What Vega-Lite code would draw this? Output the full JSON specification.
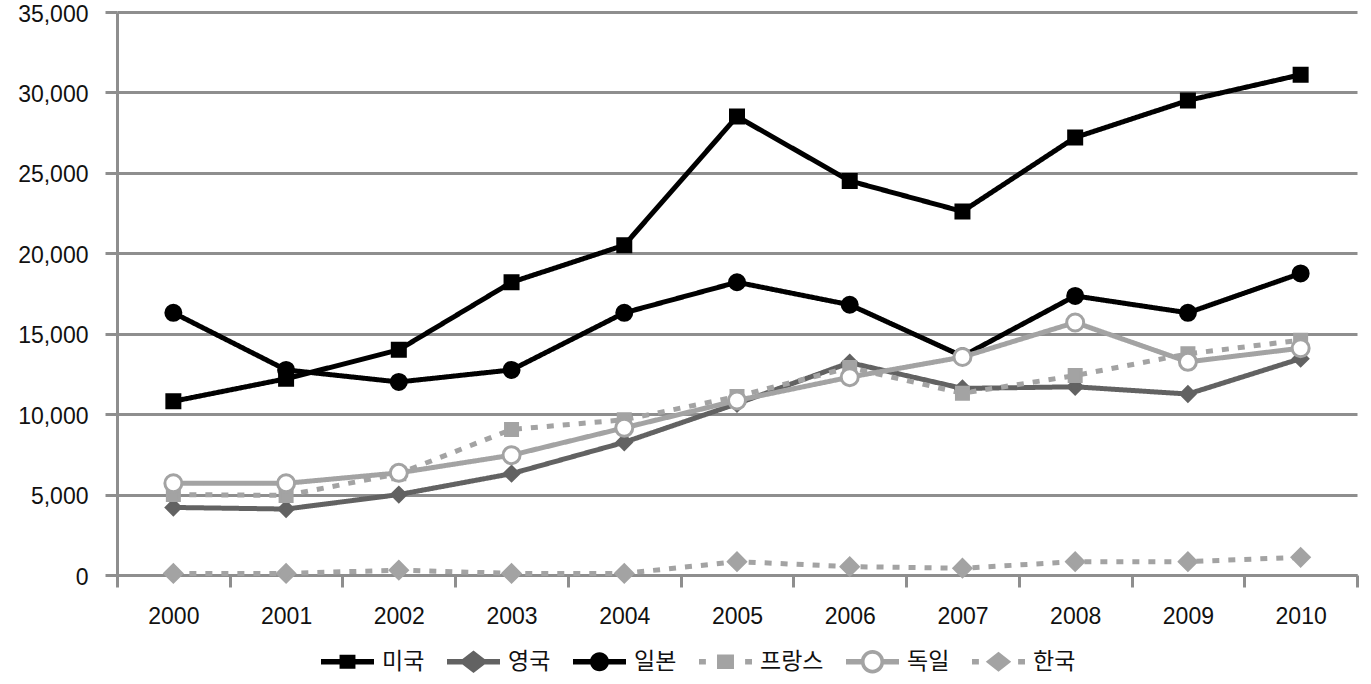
{
  "$schema": "https://vega.github.io/schema/vega-lite/v6.json",
  "width": 1240,
  "height": 563,
  "autosize": "none",
  "padding": {"left": 117, "top": 12, "right": 14, "bottom": 109},
  "background": "white",
  "config": {"font": "Liberation Sans", "view": {"stroke": null}},
  "data": {"values": [
    {"year": "2000", "country": "미국", "value": 10800},
    {"year": "2001", "country": "미국", "value": 12200},
    {"year": "2002", "country": "미국", "value": 14000},
    {"year": "2003", "country": "미국", "value": 18200},
    {"year": "2004", "country": "미국", "value": 20500},
    {"year": "2005", "country": "미국", "value": 28500},
    {"year": "2006", "country": "미국", "value": 24500},
    {"year": "2007", "country": "미국", "value": 22600},
    {"year": "2008", "country": "미국", "value": 27200},
    {"year": "2009", "country": "미국", "value": 29500},
    {"year": "2010", "country": "미국", "value": 31100},
    {"year": "2000", "country": "영국", "value": 4200},
    {"year": "2001", "country": "영국", "value": 4100},
    {"year": "2002", "country": "영국", "value": 5000},
    {"year": "2003", "country": "영국", "value": 6300},
    {"year": "2004", "country": "영국", "value": 8250},
    {"year": "2005", "country": "영국", "value": 10650},
    {"year": "2006", "country": "영국", "value": 13200},
    {"year": "2007", "country": "영국", "value": 11600},
    {"year": "2008", "country": "영국", "value": 11700},
    {"year": "2009", "country": "영국", "value": 11250},
    {"year": "2010", "country": "영국", "value": 13450},
    {"year": "2000", "country": "일본", "value": 16300},
    {"year": "2001", "country": "일본", "value": 12750},
    {"year": "2002", "country": "일본", "value": 12000},
    {"year": "2003", "country": "일본", "value": 12750},
    {"year": "2004", "country": "일본", "value": 16300},
    {"year": "2005", "country": "일본", "value": 18200},
    {"year": "2006", "country": "일본", "value": 16800},
    {"year": "2007", "country": "일본", "value": 13600},
    {"year": "2008", "country": "일본", "value": 17350},
    {"year": "2009", "country": "일본", "value": 16300},
    {"year": "2010", "country": "일본", "value": 18750},
    {"year": "2000", "country": "프랑스", "value": 5000},
    {"year": "2001", "country": "프랑스", "value": 4950},
    {"year": "2002", "country": "프랑스", "value": 6300},
    {"year": "2003", "country": "프랑스", "value": 9050},
    {"year": "2004", "country": "프랑스", "value": 9650},
    {"year": "2005", "country": "프랑스", "value": 11100},
    {"year": "2006", "country": "프랑스", "value": 12900},
    {"year": "2007", "country": "프랑스", "value": 11300},
    {"year": "2008", "country": "프랑스", "value": 12400},
    {"year": "2009", "country": "프랑스", "value": 13750},
    {"year": "2010", "country": "프랑스", "value": 14600},
    {"year": "2000", "country": "독일", "value": 5700},
    {"year": "2001", "country": "독일", "value": 5700},
    {"year": "2002", "country": "독일", "value": 6350},
    {"year": "2003", "country": "독일", "value": 7450},
    {"year": "2004", "country": "독일", "value": 9150},
    {"year": "2005", "country": "독일", "value": 10850},
    {"year": "2006", "country": "독일", "value": 12300},
    {"year": "2007", "country": "독일", "value": 13550},
    {"year": "2008", "country": "독일", "value": 15700},
    {"year": "2009", "country": "독일", "value": 13250},
    {"year": "2010", "country": "독일", "value": 14100},
    {"year": "2000", "country": "한국", "value": 100},
    {"year": "2001", "country": "한국", "value": 100},
    {"year": "2002", "country": "한국", "value": 300},
    {"year": "2003", "country": "한국", "value": 100},
    {"year": "2004", "country": "한국", "value": 100},
    {"year": "2005", "country": "한국", "value": 830},
    {"year": "2006", "country": "한국", "value": 520},
    {"year": "2007", "country": "한국", "value": 420},
    {"year": "2008", "country": "한국", "value": 830},
    {"year": "2009", "country": "한국", "value": 830},
    {"year": "2010", "country": "한국", "value": 1100}
  ]},
  "encoding": {
    "x": {
      "field": "year", "type": "ordinal", "sort": null,
      "scale": {"type": "band", "paddingInner": 0, "paddingOuter": 0},
      "axis": {
        "title": null, "labelAngle": 0, "tickBand": "extent",
        "domainColor": "#8e8e8e", "domainWidth": 3,
        "tickColor": "#8e8e8e", "tickWidth": 3, "tickSize": 12,
        "labelFontSize": 23, "labelColor": "#111111", "labelPadding": 18,
        "grid": false
      }
    },
    "y": {
      "field": "value", "type": "quantitative",
      "scale": {"domain": [0, 35000], "nice": false},
      "axis": {
        "title": null, "values": [0, 5000, 10000, 15000, 20000, 25000, 30000, 35000],
        "format": ",.0f", "grid": true, "gridColor": "#8e8e8e", "gridWidth": 3,
        "domainColor": "#8e8e8e", "domainWidth": 3,
        "tickColor": "#8e8e8e", "tickWidth": 3, "tickSize": 12,
        "labelFontSize": 23, "labelColor": "#111111", "labelPadding": 17, "labelOffset": 2
      }
    }
  },
  "layer": [
    {
      "mark": {"type": "line", "strokeWidth": 5, "strokeCap": "butt"},
      "encoding": {
        "color": {
          "field": "country", "type": "nominal",
          "scale": {"domain": ["미국", "영국", "일본", "프랑스", "독일", "한국"],
                    "range": ["#000000", "#626262", "#000000", "#a3a3a3", "#a3a3a3", "#a3a3a3"]},
          "legend": null
        },
        "strokeDash": {
          "field": "country", "type": "nominal",
          "scale": {"domain": ["미국", "영국", "일본", "프랑스", "독일", "한국"],
                    "range": [[1, 0], [1, 0], [1, 0], [7, 9], [1, 0], [7, 9]]},
          "legend": null
        }
      }
    },
    {
      "mark": {"type": "point", "filled": true, "opacity": 1, "strokeWidth": 3},
      "encoding": {
        "shape": {
          "field": "country", "type": "nominal",
          "scale": {"domain": ["미국", "영국", "일본", "프랑스", "독일", "한국"],
                    "range": ["square", "diamond", "circle", "square", "circle", "diamond"]},
          "legend": null
        },
        "fill": {
          "field": "country", "type": "nominal",
          "scale": {"domain": ["미국", "영국", "일본", "프랑스", "독일", "한국"],
                    "range": ["#000000", "#626262", "#000000", "#a3a3a3", "#ffffff", "#a3a3a3"]},
          "legend": null
        },
        "stroke": {
          "field": "country", "type": "nominal",
          "scale": {"domain": ["미국", "영국", "일본", "프랑스", "독일", "한국"],
                    "range": ["#000000", "#626262", "#000000", "#a3a3a3", "#a3a3a3", "#a3a3a3"]},
          "legend": null
        },
        "size": {
          "field": "country", "type": "nominal",
          "scale": {"type": "ordinal", "domain": ["미국", "영국", "일본", "프랑스", "독일", "한국"],
                    "range": [169, 200, 225, 144, 289, 289]},
          "legend": null
        }
      }
    },
    {
      "transform": [{"filter": "datum.value < 0"}],
      "mark": {"type": "point", "filled": true, "opacity": 1, "strokeWidth": 0},
      "encoding": {
        "shape": {
          "field": "country", "type": "nominal",
          "scale": {"domain": ["미국", "영국", "일본", "프랑스", "독일", "한국"],
                    "range": [
                      "M-1,-0.1H1V0.1H-1Z M-0.3,-0.26H0.3V0.26H-0.3Z",
                      "M-1,-0.1H1V0.1H-1Z M-0.55,0L0,-0.42L0.55,0L0,0.42Z",
                      "M-1,-0.1H1V0.1H-1Z M-0.36,0A0.36,0.36 0 1,1 0.36,0A0.36,0.36 0 1,1 -0.36,0Z",
                      "M-1,-0.1H-0.74V0.1H-1Z M-0.32,-0.27H0.32V0.27H-0.32Z M0.74,-0.1H1V0.1H0.74Z",
                      "M-1,-0.1H-0.38V0.1H-1Z M0.38,-0.1H1V0.1H0.38Z M-0.44,0A0.44,0.44 0 1,1 0.44,0A0.44,0.44 0 1,1 -0.44,0Z M-0.3,0A0.3,0.3 0 1,0 0.3,0A0.3,0.3 0 1,0 -0.3,0Z",
                      "M-1,-0.1H-0.74V0.1H-1Z M-0.48,0L0,-0.38L0.48,0L0,0.38Z M0.74,-0.1H1V0.1H0.74Z"
                    ]},
          "legend": {
            "title": null, "orient": "none", "direction": "horizontal",
            "legendX": 204, "legendY": 623, "padding": 0,
            "symbolSize": 2809, "symbolStrokeWidth": 0,
            "labelFont": "Noto Sans CJK KR", "labelFontSize": 23, "labelColor": "#111111",
            "labelOffset": 8, "columnPadding": 22
          }
        },
        "fill": {
          "field": "country", "type": "nominal",
          "scale": {"domain": ["미국", "영국", "일본", "프랑스", "독일", "한국"],
                    "range": ["#000000", "#626262", "#000000", "#a3a3a3", "#a3a3a3", "#a3a3a3"]},
          "legend": {
            "title": null, "orient": "none", "direction": "horizontal",
            "legendX": 204, "legendY": 623, "padding": 0,
            "symbolSize": 2809, "symbolStrokeWidth": 0,
            "labelFont": "Noto Sans CJK KR", "labelFontSize": 23, "labelColor": "#111111",
            "labelOffset": 8, "columnPadding": 22
          }
        }
      }
    }
  ],
  "resolve": {"scale": {"shape": "independent", "fill": "independent"}}
}
